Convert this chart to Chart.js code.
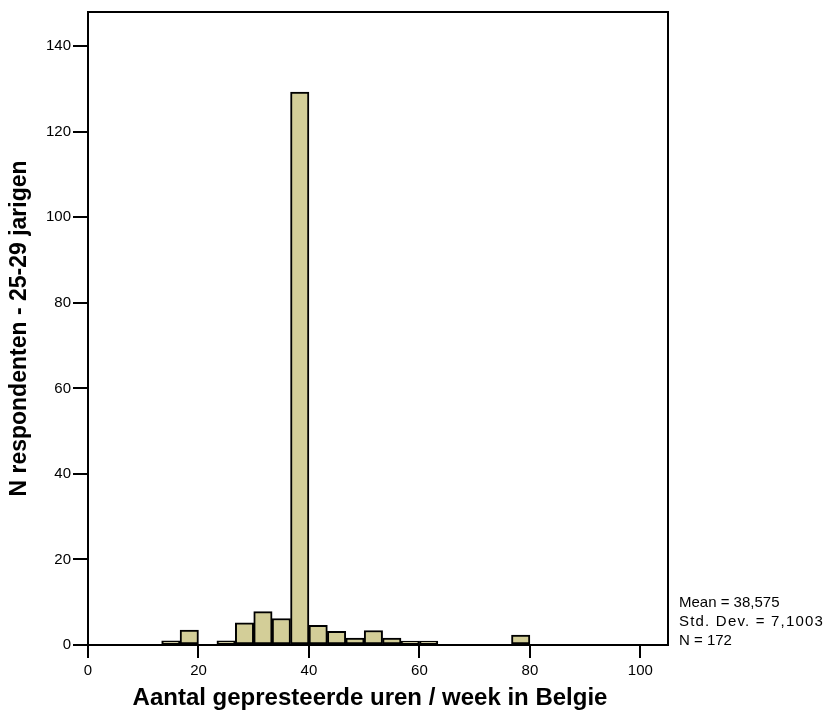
<!DOCTYPE html>
<html>
<head>
<meta charset="utf-8">
<script src="https://cdn.jsdelivr.net/npm/chart.js@4.4.1/dist/chart.umd.min.js"></script>
<style>
  html, body { margin: 0; padding: 0; background: #fff; }
  #wrap { position: relative; width: 830px; height: 712px; }
  #stats {
    position: absolute; left: 679px; top: 592px;
    font: 15px "Liberation Sans", Arial, sans-serif; line-height: 19px; color: #000;
    white-space: nowrap;
  }
  #stats .wide { letter-spacing: 1.2px; }
  #xTitle {
    position: absolute; left: 0; width: 740px; top: 683px; text-align: center;
    font: bold 24px "Liberation Sans", Arial, sans-serif; color: #000;
    white-space: nowrap;
  }
</style>
</head>
<body>
<div id="wrap">
  <canvas id="chart" width="830" height="712"></canvas>
  <div id="xTitle">Aantal gepresteerde uren / week in Belgie</div>
  <div id="stats">Mean = 38,575<br><span class="wide">Std. Dev. = 7,1003</span><br>N = 172</div>
</div>
<script>
// histogram bins (width 10/3 hours), centre of each bin
const binCenters = [15, 18.333, 21.667, 25, 28.333, 31.667, 35, 38.333, 41.667, 45,
  48.333, 51.667, 55, 58.333, 61.667, 65, 68.333, 71.667, 75, 78.333];
const counts = [1, 3.5, 0, 1, 5.2, 7.8, 6.2, 129.3, 4.6, 3.2,
  1.6, 3.4, 1.6, 0.9, 0.9, 0, 0, 0, 0, 2.3];
const xTicks = [0, 20, 40, 60, 80, 100];
const yTicks = [0, 20, 40, 60, 80, 100, 120, 140];

const tickFont = { family: '"Liberation Sans", Arial, sans-serif', size: 15 };

// closes the plot box on top and right
const frame = {
  id: 'frame',
  afterDraw(chart) {
    const { ctx, chartArea: a } = chart;
    ctx.save();
    ctx.strokeStyle = '#000';
    ctx.lineWidth = 2;
    ctx.beginPath();
    ctx.moveTo(a.left, a.top);
    ctx.lineTo(a.right, a.top);
    ctx.lineTo(a.right, a.bottom);
    ctx.stroke();
    ctx.restore();
  }
};

new Chart(document.getElementById('chart'), {
  type: 'bar',
  data: {
    datasets: [{
      data: binCenters.map((x, i) => ({ x, y: counts[i] })),
      backgroundColor: '#d3ce98',
      borderColor: '#000',
      borderWidth: 2,
      borderSkipped: false,
      barPercentage: 1,
      categoryPercentage: 1
    }]
  },
  options: {
    responsive: false,
    animation: false,
    layout: { padding: { top: 12, right: 162, left: 0, bottom: 0 } },
    plugins: { legend: { display: false }, tooltip: { enabled: false } },
    scales: {
      x: {
        type: 'linear',
        min: 0, max: 105,
        offset: false,
        afterBuildTicks: s => { s.ticks = xTicks.map(v => ({ value: v })); },
        afterFit: s => { s.height = 67; },
        ticks: { color: '#000', font: tickFont, padding: 4, maxRotation: 0 },
        grid: { offset: false, drawOnChartArea: false, color: '#000', lineWidth: 2, tickLength: 13 },
        border: { color: '#000', width: 2 }
      },
      y: {
        min: 0, max: 148,
        afterBuildTicks: s => { s.ticks = yTicks.map(v => ({ value: v })); },
        afterFit: s => { s.width = 88; },
        ticks: { color: '#000', font: tickFont, padding: 2 },
        grid: { drawOnChartArea: false, color: '#000', lineWidth: 2, tickLength: 15 },
        border: { color: '#000', width: 2 },
        title: {
          display: true,
          text: 'N respondenten - 25-29 jarigen',
          color: '#000',
          font: { family: '"Liberation Sans", Arial, sans-serif', size: 23, weight: 'bold' },
          padding: { top: 6, bottom: 0 }
        }
      }
    }
  },
  plugins: [frame]
});
</script>
</body>
</html>
